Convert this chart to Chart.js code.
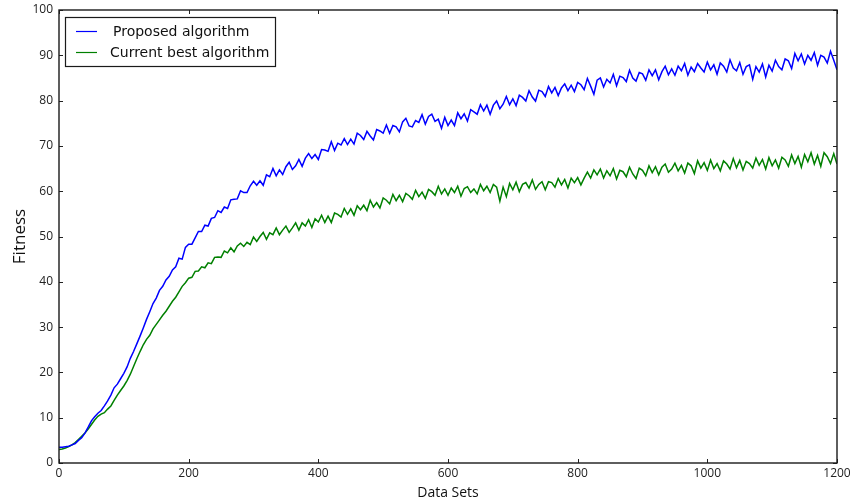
<!DOCTYPE html>
<html>
<head>
<meta charset="utf-8">
<script src="https://cdn.jsdelivr.net/npm/chart.js@4/dist/chart.umd.min.js"></script>
<style>
  html, body { margin: 0; padding: 0; background: #ffffff; }
  #wrap { width: 850px; height: 503px; position: relative; }
</style>
</head>
<body>
<div id="wrap"><canvas id="c" width="850" height="503"></canvas></div>
<script>
// ---- data ----
const dataSets = [
  0,5,10,15,20,25,30,35,40,45,50,55,60,65,70,75,80,85,90,95,
  100,105,110,115,120,125,130,135,140,145,150,155,160,165,170,175,180,185,190,195,
  200,205,210,215,220,225,230,235,240,245,250,255,260,265,270,275,280,285,290,295,
  300,305,310,315,320,325,330,335,340,345,350,355,360,365,370,375,380,385,390,395,
  400,405,410,415,420,425,430,435,440,445,450,455,460,465,470,475,480,485,490,495,
  500,505,510,515,520,525,530,535,540,545,550,555,560,565,570,575,580,585,590,595,
  600,605,610,615,620,625,630,635,640,645,650,655,660,665,670,675,680,685,690,695,
  700,705,710,715,720,725,730,735,740,745,750,755,760,765,770,775,780,785,790,795,
  800,805,810,815,820,825,830,835,840,845,850,855,860,865,870,875,880,885,890,895,
  900,905,910,915,920,925,930,935,940,945,950,955,960,965,970,975,980,985,990,995,
  1000,1005,1010,1015,1020,1025,1030,1035,1040,1045,1050,1055,1060,1065,1070,1075,1080,1085,1090,1095,
  1100,1105,1110,1115,1120,1125,1130,1135,1140,1145,1150,1155,1160,1165,1170,1175,1180,1185,1190,1195,
  1200
];

const proposed = [
  3.5,3.5,3.6,3.7,4.0,4.3,5.0,5.6,6.6,7.9,
  9.3,10.2,11.0,11.6,12.6,13.7,15.0,16.6,17.4,18.6,
  19.8,21.2,23.1,24.6,26.3,28.0,29.8,31.7,33.4,35.2,
  36.4,38.1,39.0,40.4,41.2,42.6,43.3,45.2,45.0,47.6,
  48.3,48.3,49.7,51.1,51.1,52.5,52.3,54.0,54.2,55.7,
  55.3,56.5,56.2,58.1,58.2,58.3,60.1,59.7,59.7,61.2,
  62.2,61.3,62.3,61.3,63.6,63.2,65.0,63.4,64.7,63.7,
  65.4,66.4,64.8,65.6,67.0,65.5,67.3,68.3,67.2,68.1,
  67.0,69.2,69.1,68.8,70.9,69.0,70.6,70.2,71.6,70.3,
  71.5,70.4,72.8,72.3,71.4,73.2,72.2,71.3,73.6,73.3,
  72.8,74.6,72.8,74.5,74.2,73.1,75.3,76.1,74.4,74.2,
  75.6,75.2,76.9,74.8,76.5,77.0,75.4,75.9,73.9,76.3,
  74.5,75.7,74.5,77.3,76.0,77.1,75.5,78.0,77.5,77.0,
  79.1,77.7,79.0,77.0,79.0,79.9,78.2,79.2,80.9,79.1,
  80.4,78.9,81.2,80.7,79.9,82.2,80.8,79.9,82.3,82.0,
  80.9,83.1,81.7,82.9,81.1,82.8,83.7,82.2,83.4,82.0,
  84.0,83.5,82.4,84.9,83.2,81.4,84.5,85.0,83.0,84.7,
  83.9,85.8,83.3,85.4,85.1,84.2,86.7,85.0,84.3,86.2,
  85.9,84.5,86.8,85.5,86.8,84.6,86.4,87.6,85.7,87.0,
  85.6,87.6,86.6,88.2,85.6,87.4,86.4,88.2,87.2,86.3,
  88.5,86.8,87.9,85.8,88.3,87.6,86.3,89.0,87.2,86.6,
  88.4,85.8,87.5,87.9,84.7,87.5,86.3,88.1,85.2,87.8,
  86.5,88.9,87.5,86.8,89.2,88.8,87.1,90.4,88.8,90.3,
  88.1,90.0,88.9,90.6,87.8,90.0,89.6,88.3,90.9,88.9,
  86.8
];

const currentBest = [
  3.0,3.1,3.3,3.6,4.0,4.5,5.2,5.9,6.6,7.5,
  8.5,9.5,10.3,10.8,11.1,11.9,12.6,13.8,15.0,16.0,
  17.0,18.2,19.6,21.3,23.0,24.6,26.1,27.3,28.2,29.6,
  30.6,31.6,32.6,33.5,34.6,35.7,36.6,37.8,39.0,39.8,
  40.8,41.0,42.3,42.4,43.3,43.1,44.2,44.0,45.4,45.5,
  45.4,46.8,46.4,47.5,46.6,47.9,48.5,47.8,48.7,48.2,
  49.9,48.9,50.0,50.9,49.4,50.8,50.4,51.9,50.4,51.4,
  52.3,50.9,51.9,53.0,51.4,53.0,52.3,53.7,52.0,53.9,
  53.2,54.7,53.1,54.5,53.1,55.2,54.9,54.3,56.2,54.9,
  56.1,54.7,56.8,55.9,56.9,55.7,58.0,56.5,57.5,56.3,
  58.5,58.0,57.2,59.3,57.9,59.1,57.7,59.5,59.0,58.2,
  60.2,58.8,59.8,58.4,60.4,59.9,59.1,61.1,59.4,60.5,
  59.1,60.7,59.7,61.1,58.9,60.6,61.0,59.7,60.5,59.4,
  61.5,60.1,61.1,59.7,61.5,60.9,57.8,60.9,58.8,61.7,
  60.3,62.0,59.9,61.5,61.9,60.7,62.5,60.4,61.5,62.1,
  60.3,62.1,61.9,60.9,62.8,61.4,62.6,60.7,62.9,61.9,
  63.0,61.4,62.9,64.2,62.9,64.7,63.6,64.9,62.9,64.5,
  63.4,65.0,62.7,64.6,64.3,63.2,65.3,63.8,62.8,65.1,
  64.6,63.4,65.6,64.1,65.4,63.6,65.3,66.0,64.2,64.9,
  66.2,64.5,65.7,64.0,66.2,65.6,63.9,66.7,65.1,66.3,
  64.6,66.9,65.0,66.1,64.5,66.7,66.0,64.9,67.2,65.2,
  66.8,64.7,66.6,66.1,65.1,67.3,65.7,67.0,64.9,67.4,
  65.6,66.9,65.1,67.5,66.9,65.5,68.0,66.1,67.7,65.3,
  68.1,66.5,68.5,66.0,67.9,65.5,68.5,67.6,66.1,68.3,
  66.0
];

const seriesNames = ['Proposed algorithm', 'Current best algorithm'];
const seriesColors = ['#0000ff', '#008000'];
const xTitle = 'Data Sets';
const yTitle = 'Fitness';

// ---- plugin: frame, inward ticks, legend ----
const framePlugin = {
  id: 'framePlugin',
  afterDraw(chart) {
    const ctx = chart.ctx;
    const a = chart.chartArea;
    const xs = chart.scales.x, ys = chart.scales.y;
    ctx.save();
    ctx.strokeStyle = '#222222';
    ctx.lineWidth = 1;
    const tl = 4;
    ctx.beginPath();
    xs.ticks.forEach((t, i) => {
      const px = Math.round(xs.getPixelForTick(i)) + 0.5;
      ctx.moveTo(px, a.bottom); ctx.lineTo(px, a.bottom - tl);
      ctx.moveTo(px, a.top); ctx.lineTo(px, a.top + tl);
    });
    ys.ticks.forEach((t, i) => {
      const py = Math.round(ys.getPixelForTick(i)) + 0.5;
      ctx.moveTo(a.left, py); ctx.lineTo(a.left + tl, py);
      ctx.moveTo(a.right, py); ctx.lineTo(a.right - tl, py);
    });
    ctx.stroke();
    ctx.lineWidth = 1.4;
    ctx.strokeStyle = '#1a1a1a';
    ctx.strokeRect(a.left, a.top, a.right - a.left, a.bottom - a.top);

    // legend
    const lx = 65, ly = 17, lw = 210, lh = 49;
    ctx.fillStyle = '#ffffff';
    ctx.fillRect(lx, ly, lw, lh);
    ctx.lineWidth = 1.2;
    ctx.strokeStyle = '#1a1a1a';
    ctx.strokeRect(lx + 0.5, ly + 0.5, lw, lh);
    ctx.font = '14px "DejaVu Sans", sans-serif';
    ctx.textBaseline = 'middle';
    ctx.textAlign = 'left';
    chart.data.datasets.forEach((ds, i) => {
      const yy = ly + 14 + i * 21;
      ctx.strokeStyle = ds.borderColor;
      ctx.lineWidth = 1.2;
      ctx.beginPath();
      ctx.moveTo(76, yy + 0.5); ctx.lineTo(97, yy + 0.5);
      ctx.stroke();
      ctx.fillStyle = '#111111';
      ctx.fillText(ds.label, i === 0 ? 113 : 110, yy + 1);
    });
    ctx.restore();
  }
};

const datasets = [proposed, currentBest].map((vals, i) => ({
  label: seriesNames[i],
  data: dataSets.map((x, j) => ({ x: x, y: vals[j] })),
  borderColor: seriesColors[i],
  backgroundColor: seriesColors[i],
  borderWidth: 1.5,
  pointRadius: 0,
  tension: 0,
  fill: false
}));

new Chart(document.getElementById('c'), {
  type: 'line',
  data: { datasets: datasets },
  options: {
    responsive: false,
    animation: false,
    layout: { padding: { top: 10, right: 13, left: 0, bottom: 0 } },
    plugins: {
      legend: { display: false },
      tooltip: { enabled: false }
    },
    scales: {
      x: {
        type: 'linear',
        min: 0, max: 1200,
        grid: { display: false, drawTicks: false },
        border: { display: false },
        ticks: {
          stepSize: 200,
          padding: 3,
          color: '#222222',
          font: { family: '"Open Sans", sans-serif', size: 12 },
          maxRotation: 0,
          callback: v => String(v)
        },
        title: {
          display: true,
          text: xTitle,
          color: '#111111',
          font: { family: '"Open Sans", sans-serif', size: 14 },
          padding: { top: 0, bottom: 2 }
        },
        afterFit(s) { s.height = 40; s.paddingLeft = 0; s.paddingRight = 0; }
      },
      y: {
        min: 0, max: 100,
        grid: { display: false, drawTicks: false },
        border: { display: false },
        ticks: {
          stepSize: 10,
          padding: 6,
          color: '#222222',
          font: { family: '"Open Sans", sans-serif', size: 12 },
          callback: v => String(v)
        },
        title: {
          display: true,
          text: yTitle,
          color: '#111111',
          font: { family: '"Open Sans", sans-serif', size: 17 },
          padding: { top: 10, bottom: 0 }
        },
        afterFit(s) { s.width = 59; s.paddingTop = 0; s.paddingBottom = 0; }
      }
    }
  },
  plugins: [framePlugin]
});
</script>
</body>
</html>
